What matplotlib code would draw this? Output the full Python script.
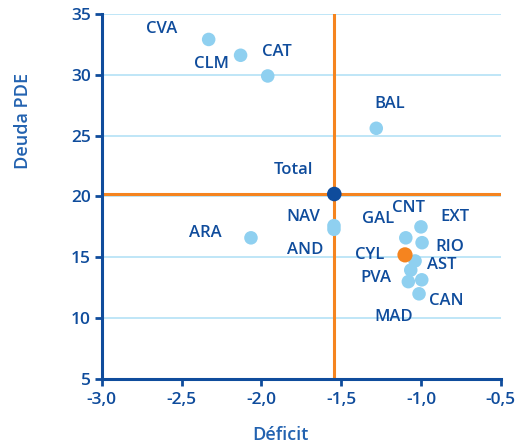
import matplotlib
matplotlib.use("Agg")
import matplotlib.pyplot as plt
from matplotlib.ticker import FuncFormatter

plt.rcParams["font.family"] = ["Open Sans", "DejaVu Sans"]

# Regional deficit vs debt (PDE)
regions = ["CVA", "CLM", "CAT", "BAL", "ARA", "NAV", "AND",
           "EXT", "GAL", "RIO", "AST", "PVA", "MAD", "CNT", "CAN"]
deficit = [-2.33, -2.13, -1.96, -1.28, -2.065, -1.545, -1.545,
           -1.00, -1.095, -0.993, -1.037, -1.064, -1.079, -0.995, -1.012]
deuda = [32.9, 31.6, 29.9, 25.6, 16.6, 17.6, 17.3,
         17.5, 16.6, 16.2, 14.7, 13.95, 13.0, 13.15, 12.0]

# label offsets (pixels) relative to each point
label_dx = [-47, -29, 9, 13, -46, -31, -29, 34, -28, 28, 27, -35, -15, -13, 27]
label_dy = [10, -9, 24, 24, 5, 9, -21, 10, 19, -4, -4, -8, -35, 72, -7]

total_name, total_x, total_y = "Total", -1.543, 20.2
cyl_name, cyl_x, cyl_y = "CYL", -1.10, 15.2

DARK = "#0f4c9c"
AXLBL = "#2262b0"
LIGHT = "#8fd0f0"
ORANGE = "#f5841f"
GRID = "#bfe6f7"

fig = plt.figure(figsize=(5.23, 4.48), dpi=100)
ax = fig.add_axes([0.1945, 0.154, 0.763, 0.815])

ax.set_xlim(-3.0, -0.5)
ax.set_ylim(5, 35)
ax.set_xticks([-3.0, -2.5, -2.0, -1.5, -1.0, -0.5])
ax.set_yticks([5, 10, 15, 20, 25, 30, 35])
ax.xaxis.set_major_formatter(FuncFormatter(lambda v, p: f"{v:.1f}".replace(".", ",")))

for yv in [10, 15, 20, 25, 30, 35]:
    ax.axhline(yv, color=GRID, lw=1.4, zorder=0.5)

ax.axhline(total_y, color=ORANGE, lw=2.2, zorder=1)
ax.axvline(total_x, color=ORANGE, lw=2.2, zorder=1)

ax.scatter(deficit, deuda, s=95, color=LIGHT, edgecolors="none", zorder=3)
ax.scatter([total_x], [total_y], s=110, color=DARK, edgecolors="none", zorder=4)
ax.scatter([cyl_x], [cyl_y], s=120, color=ORANGE, edgecolors="none", zorder=4)

lbl = dict(textcoords="offset pixels", ha="center", va="center",
           color=DARK, fontsize=12, fontweight="semibold")
for name, x, y, dx, dy in zip(regions, deficit, deuda, label_dx, label_dy):
    ax.annotate(name, (x, y), xytext=(dx, dy), **lbl)
ax.annotate(total_name, (total_x, total_y), xytext=(-41, 24), **lbl)
ax.annotate(cyl_name, (cyl_x, cyl_y), xytext=(-35, 0), **lbl)

for side in ["top", "right"]:
    ax.spines[side].set_visible(False)
for side in ["left", "bottom"]:
    ax.spines[side].set_color(DARK)
    ax.spines[side].set_linewidth(2.2)
ax.tick_params(colors=DARK, width=2, length=5, labelsize=12.5, direction="out")
for t in ax.get_xticklabels() + ax.get_yticklabels():
    t.set_fontweight("semibold")
ax.tick_params(axis="y", pad=3)
ax.tick_params(axis="x", pad=4)

ax.set_xlabel("Déficit", color=AXLBL, fontsize=13, fontweight="semibold",
              va="center", ha="center")
ax.set_ylabel("Deuda PDE", color=AXLBL, fontsize=13, fontweight="semibold",
              va="center", ha="center")
ax.xaxis.set_label_coords(0.447, -0.153)
ax.yaxis.set_label_coords(-0.197, 0.707)

fig.savefig("out.png", dpi=100)
